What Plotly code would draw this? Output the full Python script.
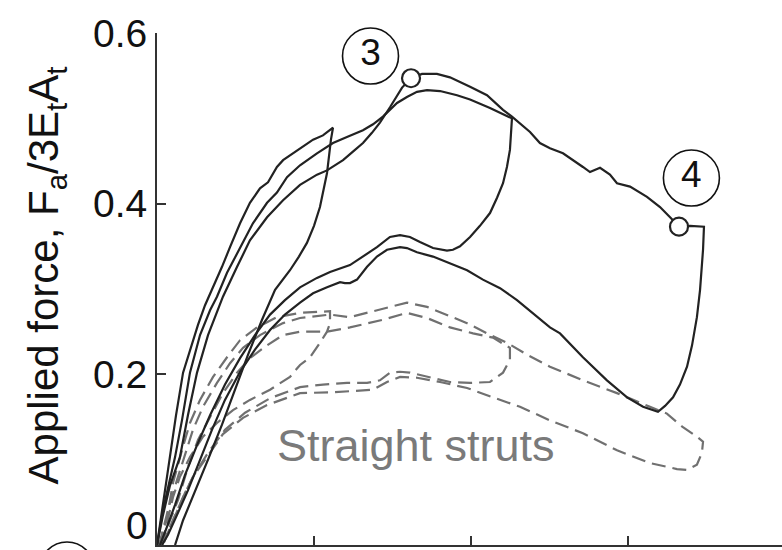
import plotly.graph_objects as go

# ---------------- data (x: normalised displacement, y: F_a / 3 E_t A_t) ----------------
# Curved struts (solid)
s1_x = [0, 0.032, 0.083, 0.121, 0.166, 0.210, 0.261, 0.306, 0.350, 0.414, 0.465, 0.529, 0.592,
        0.656, 0.707, 0.764, 0.803, 0.911, 0.994, 1.057, 1.121,
        1.108, 1.083, 1.038, 1.000, 0.955, 0.904, 0.847, 0.752, 0.669, 0.580, 0.497, 0.414,
        0.325, 0.242, 0.166, 0.115]
s1_y = [0, 0.041, 0.103, 0.152, 0.202, 0.229, 0.258, 0.281, 0.299, 0.326, 0.349, 0.377, 0.401,
        0.418, 0.425, 0.443, 0.451, 0.465, 0.475, 0.480, 0.489,
        0.475, 0.436, 0.396, 0.374, 0.354, 0.338, 0.322, 0.299, 0.264, 0.223, 0.182, 0.141,
        0.100, 0.062, 0.029, 0.0]

s2_x = [0, 0.038, 0.115, 0.159, 0.210, 0.274, 0.338, 0.382, 0.446, 0.529, 0.611, 0.701, 0.764,
        0.828, 0.911, 1.019, 1.121, 1.210, 1.312, 1.376, 1.439, 1.529, 1.592, 1.656, 1.720,
        1.803, 1.911, 1.994, 2.121, 2.261,
        2.255, 2.248, 2.229, 2.204, 2.166, 2.121, 2.057, 1.994, 1.930, 1.885, 1.847,
        1.758, 1.675, 1.611, 1.548, 1.484, 1.401, 1.312, 1.229, 1.102, 1.019, 0.911, 0.815,
        0.720, 0.624, 0.529, 0.433, 0.338, 0.255, 0.178, 0.115, 0.057, 0.019]
s2_y = [0, 0.041, 0.103, 0.146, 0.202, 0.246, 0.275, 0.291, 0.319, 0.349, 0.377, 0.401, 0.413,
        0.431, 0.445, 0.459, 0.471, 0.478, 0.486, 0.493, 0.502, 0.518, 0.525, 0.531, 0.533,
        0.532, 0.527, 0.522, 0.512, 0.500,
        0.480, 0.463, 0.443, 0.424, 0.407, 0.389, 0.374, 0.361, 0.350, 0.346, 0.345,
        0.348, 0.355, 0.361, 0.363, 0.361, 0.349, 0.338, 0.328, 0.320, 0.313, 0.302, 0.287,
        0.270, 0.246, 0.219, 0.188, 0.152, 0.117, 0.082, 0.047, 0.018, 0]

s3_x = [0, 0.038, 0.083, 0.146, 0.197, 0.255, 0.325, 0.420, 0.510, 0.592, 0.701, 0.803, 0.911,
        1.019, 1.083, 1.185, 1.248, 1.312, 1.369, 1.420, 1.484, 1.561, 1.618, 1.688, 1.783,
        1.866, 1.994, 2.102, 2.204, 2.261, 2.376, 2.439, 2.503, 2.586, 2.713, 2.758, 2.822,
        2.885, 2.930, 3.013, 3.121, 3.204, 3.268, 3.325, 3.395, 3.484,
        3.478, 3.471, 3.459, 3.439, 3.408, 3.376, 3.331, 3.287, 3.236, 3.191,
        3.096, 2.994, 2.866, 2.713, 2.567, 2.503, 2.395, 2.293, 2.185, 2.076, 1.975, 1.866,
        1.758, 1.656, 1.592, 1.548, 1.465, 1.401, 1.338, 1.274, 1.229, 1.197, 1.166, 1.083,
        0.994, 0.911, 0.815, 0.720, 0.624, 0.529, 0.433, 0.350, 0.274, 0.197, 0.127, 0.070, 0.032]
s3_y = [0, 0.035, 0.070, 0.103, 0.152, 0.202, 0.246, 0.291, 0.326, 0.357, 0.384, 0.404, 0.422,
        0.434, 0.439, 0.451, 0.461, 0.471, 0.483, 0.495, 0.513, 0.536, 0.547, 0.552, 0.552,
        0.548, 0.537, 0.527, 0.510, 0.502, 0.484, 0.471, 0.465, 0.459, 0.443, 0.437, 0.442,
        0.434, 0.424, 0.420, 0.408, 0.396, 0.384, 0.373, 0.374, 0.373,
        0.346, 0.326, 0.299, 0.267, 0.234, 0.209, 0.188, 0.173, 0.163, 0.156,
        0.162, 0.173, 0.193, 0.220, 0.248, 0.255, 0.272, 0.287, 0.301, 0.311, 0.322, 0.330,
        0.338, 0.343, 0.348, 0.349, 0.346, 0.338, 0.326, 0.311, 0.307, 0.307, 0.308, 0.302,
        0.295, 0.284, 0.270, 0.252, 0.229, 0.203, 0.170, 0.135, 0.100, 0.064, 0.035, 0.012, 0]

# Straight struts (dashed)
da_x = [0.006, 0.032, 0.064, 0.102, 0.159, 0.210, 0.274, 0.357, 0.446, 0.529, 0.637, 0.764,
        0.911, 1.006, 1.102,
        1.102, 1.083, 1.038, 0.975, 0.911, 0.847, 0.720, 0.592, 0.484, 0.382, 0.293, 0.210,
        0.146, 0.102, 0.064, 0.032]
da_y = [0, 0.008, 0.033, 0.073, 0.111, 0.143, 0.170, 0.197, 0.220, 0.240, 0.255, 0.267,
        0.272, 0.273, 0.274,
        0.260, 0.250, 0.237, 0.220, 0.211, 0.197, 0.182, 0.170, 0.158, 0.143, 0.127, 0.103,
        0.080, 0.056, 0.026, 0.002]

db_x = [0.013, 0.038, 0.070, 0.127, 0.178, 0.229, 0.293, 0.382, 0.465, 0.548, 0.656, 0.803,
        0.911, 1.102, 1.229, 1.338, 1.465, 1.592, 1.720, 1.847, 1.975, 2.102, 2.229, 2.357,
        2.503, 2.713, 2.930, 3.140, 3.248, 3.350, 3.439, 3.478,
        3.471, 3.439, 3.376, 3.312, 3.140, 2.930, 2.713, 2.503, 2.312, 2.140, 1.975, 1.803,
        1.656, 1.548, 1.465, 1.376, 1.121, 0.911, 0.701, 0.548, 0.420, 0.318, 0.229, 0.166,
        0.102, 0.051, 0.032]
db_y = [0, 0.018, 0.041, 0.076, 0.105, 0.135, 0.162, 0.190, 0.213, 0.231, 0.246, 0.260,
        0.266, 0.270, 0.267, 0.272, 0.278, 0.284, 0.279, 0.270, 0.260, 0.248, 0.237, 0.223,
        0.209, 0.193, 0.178, 0.162, 0.154, 0.138, 0.127, 0.121,
        0.108, 0.094, 0.088, 0.089, 0.096, 0.111, 0.131, 0.146, 0.162, 0.173, 0.184, 0.191,
        0.196, 0.197, 0.191, 0.182, 0.179, 0.178, 0.164, 0.149, 0.130, 0.103, 0.080, 0.056,
        0.029, 0.006, 0]

dc_x = [0.019, 0.051, 0.083, 0.134, 0.197, 0.261, 0.338, 0.420, 0.510, 0.592, 0.701, 0.803,
        0.911, 1.083, 1.229, 1.439, 1.592, 1.720, 1.866, 2.013, 2.140, 2.248,
        2.248, 2.204, 2.121, 1.994, 1.866, 1.758, 1.611, 1.548, 1.484, 1.420, 1.338, 1.210,
        1.057, 0.911, 0.720, 0.561, 0.433, 0.325, 0.242, 0.178, 0.115, 0.064, 0.038]
dc_y = [0, 0.012, 0.029, 0.053, 0.091, 0.123, 0.150, 0.178, 0.202, 0.219, 0.234, 0.246,
        0.250, 0.250, 0.255, 0.264, 0.272, 0.266, 0.255, 0.248, 0.243, 0.231,
        0.217, 0.202, 0.191, 0.190, 0.191, 0.196, 0.202, 0.203, 0.202, 0.193, 0.190, 0.190,
        0.188, 0.185, 0.172, 0.155, 0.135, 0.108, 0.084, 0.061, 0.035, 0.012, 0]

# Marked states on the curved-strut curve
state_x = [1.618, 3.325]
state_y = [0.547, 0.373]
label_text = ["3", "4"]
label_x = [1.360, 3.404]
label_y = [0.573, 0.430]

y_ticks = [0, 0.2, 0.4, 0.6]
y_tick_text = ["", "0.2", "0.4", "0.6"]   # the "0" label is lifted above the frame edge below
zero_label = "0"
x_ticks = [1, 2, 3]

# ---------------- figure ----------------
FONT = "Liberation Sans, Arial, Helvetica, sans-serif"
SOLID = "#222222"
GREY = "#707070"

fig = go.Figure()

for xs, ys in [(da_x, da_y), (db_x, db_y), (dc_x, dc_y)]:
    fig.add_trace(go.Scatter(x=xs, y=ys, mode="lines",
                             line=dict(color=GREY, width=2.2, dash="14px,7px"),
                             hoverinfo="skip", showlegend=False))

for xs, ys in [(s1_x, s1_y), (s2_x, s2_y), (s3_x, s3_y)]:
    fig.add_trace(go.Scatter(x=xs, y=ys, mode="lines",
                             line=dict(color=SOLID, width=2.2),
                             hoverinfo="skip", showlegend=False))

fig.add_trace(go.Scatter(x=state_x, y=state_y, mode="markers",
                         marker=dict(symbol="circle", size=18, color="white",
                                     line=dict(color=SOLID, width=2.2)),
                         cliponaxis=False, hoverinfo="skip", showlegend=False))

fig.add_trace(go.Scatter(x=label_x, y=label_y, mode="markers+text", text=label_text,
                         textposition="middle center",
                         textfont=dict(family=FONT, size=37, color="#111"),
                         marker=dict(symbol="circle", size=56, color="white",
                                     line=dict(color="#111", width=1.6)),
                         cliponaxis=False, hoverinfo="skip", showlegend=False))

fig.add_annotation(x=1.65, y=0.117, xref="x", yref="y", text="Straight struts",
                   showarrow=False, font=dict(family=FONT, size=45, color="#7a7a7a"))

fig.add_annotation(x=-0.222, y=0.526, xref="paper", yref="paper",
                   text="Applied force, F<sub>a</sub>/3E<sub>t</sub>A<sub>t</sub>",
                   textangle=-90, showarrow=False,
                   font=dict(family=FONT, size=42, color="#111"))

# "0" tick label, sitting just above the bottom edge as in the original
fig.add_annotation(x=-0.011, y=0.0, xref="paper", yref="paper", text=zero_label,
                   xanchor="right", yanchor="bottom", yshift=-4, showarrow=False,
                   font=dict(family=FONT, size=39, color="#111"))

# partially visible circled label at the bottom-left (cut by the frame)
fig.add_shape(type="circle", xref="paper", yref="paper",
              x0=-0.1872, x1=-0.1008, y0=-0.0996, y1=0.0059,
              line=dict(color="#111", width=1.6))

fig.update_layout(
    width=782, height=550,
    margin=dict(l=157, r=0, t=33, b=5, pad=0, autoexpand=False),
    paper_bgcolor="white", plot_bgcolor="white",
    font=dict(family=FONT, color="#111"),
    xaxis=dict(range=[0, 3.981], showgrid=False, zeroline=False, automargin=False,
               showline=True, linecolor="#333", linewidth=2,
               ticks="inside", ticklen=9, tickwidth=2, tickcolor="#333",
               tickvals=x_ticks, showticklabels=False),
    yaxis=dict(range=[0, 0.6], showgrid=False, zeroline=False, automargin=False,
               showline=True, linecolor="#333", linewidth=2,
               ticks="inside", ticklen=9, tickwidth=2, tickcolor="#333",
               tickvals=y_ticks, ticktext=y_tick_text,
               tickfont=dict(family=FONT, size=39, color="#111"),
               ticklabelstandoff=0),
)

fig.write_html(
    "out.html",
    config={"displayModeBar": False},
    post_script="document.body.style.margin='0';document.body.style.overflow='hidden';",
)
